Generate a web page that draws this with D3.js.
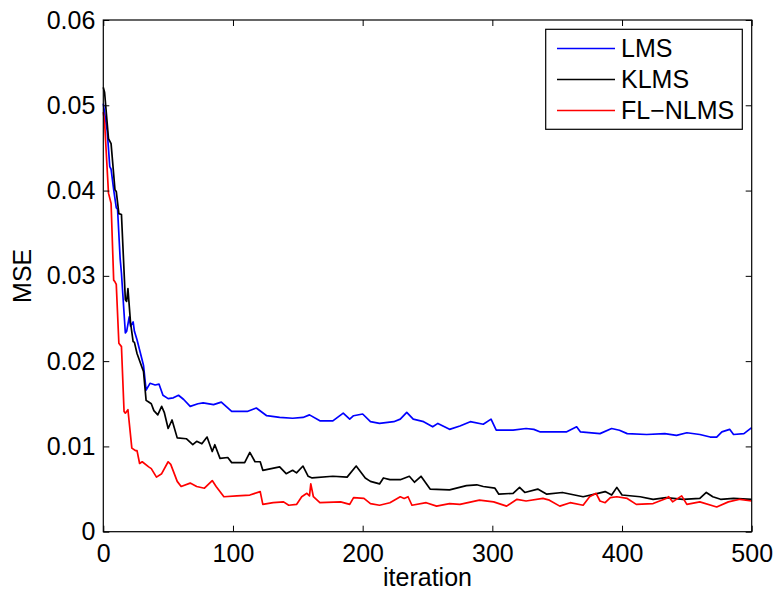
<!DOCTYPE html>
<html>
<head>
<meta charset="utf-8">
<script src="https://cdn.jsdelivr.net/npm/d3@7/dist/d3.min.js"></script>
<style>
  body { margin: 0; background: #fff; }
  svg text { font-family: "Liberation Sans", Arial, Helvetica, sans-serif; fill: #000; }
</style>
<title>MSE</title>
</head>
<body>
<div id="graph"></div>
<script>
// values
var lmsIter = [0,3,5,6,8,10,11,13,14,17,18,20,21,23,24,26,30,31,33,36,40,43,46,50,54,58,62,67,73,77,85,91,99,105,111,118,126,136,146,154,159,167,177,185,190,193,200,206,213,224,229,234,239,247,254,258,267,275,283,293,299,303,316,326,332,337,357,365,368,383,392,398,404,419,433,442,450,460,468,473,477,483,486,494,500];
var lmsMSE = [0.0502,0.0470,0.0428,0.0425,0.0401,0.0380,0.0378,0.0320,0.0303,0.0233,0.0235,0.0252,0.0241,0.0246,0.0235,0.0225,0.0201,0.0195,0.0166,0.0174,0.0172,0.0173,0.0160,0.0156,0.0157,0.0160,0.0155,0.0147,0.0150,0.0151,0.0149,0.0152,0.0141,0.0141,0.0141,0.0145,0.0136,0.0134,0.0133,0.0134,0.0137,0.0130,0.0130,0.0139,0.0132,0.0136,0.0138,0.0129,0.0127,0.0129,0.0132,0.0140,0.0132,0.0129,0.0123,0.0127,0.0120,0.0124,0.0129,0.0126,0.0132,0.0119,0.0119,0.0121,0.0120,0.0117,0.0117,0.0123,0.0117,0.0115,0.0121,0.0119,0.0115,0.0114,0.0115,0.0113,0.0116,0.0114,0.0111,0.0111,0.0117,0.0120,0.0114,0.0115,0.0122];

var klmsIter = [0,1,4,6,9,10,12,14,17,18,19,21,23,24,26,30,31,33,35,37,39,42,45,47,50,53,57,64,69,72,76,80,84,86,90,96,99,109,113,117,121,123,136,141,146,149,154,158,161,177,188,195,202,206,213,216,221,229,236,240,245,252,267,280,288,293,302,305,316,321,325,335,342,354,370,379,387,392,396,400,414,424,434,447,460,465,470,476,486,500];
var klmsMSE = [0.0521,0.0515,0.0461,0.0455,0.0401,0.0399,0.0373,0.0372,0.0272,0.0270,0.0285,0.0245,0.0223,0.0222,0.0209,0.0192,0.0188,0.0154,0.0152,0.0150,0.0142,0.0137,0.0147,0.0140,0.0121,0.0131,0.0110,0.0109,0.0102,0.0106,0.0103,0.0111,0.0094,0.0102,0.0086,0.0087,0.0081,0.0081,0.0093,0.0082,0.0082,0.0072,0.0076,0.0068,0.0072,0.0069,0.0077,0.0065,0.0063,0.0065,0.0064,0.0077,0.0063,0.0059,0.0056,0.0063,0.0061,0.0061,0.0065,0.0058,0.0065,0.0050,0.0049,0.0054,0.0055,0.0053,0.0051,0.0044,0.0045,0.0052,0.0046,0.0050,0.0044,0.0046,0.0041,0.0044,0.0047,0.0043,0.0052,0.0043,0.0041,0.0038,0.0040,0.0038,0.0039,0.0046,0.0041,0.0038,0.0039,0.0038];

var flIter = [0,1,4,6,8,9,10,12,14,16,17,19,22,25,26,28,30,35,37,41,45,50,52,57,60,67,72,78,84,87,93,103,113,121,123,131,139,143,149,153,157,159,160,162,167,183,190,193,201,206,213,221,229,232,235,238,249,257,267,275,290,301,311,319,326,339,344,352,360,370,375,380,383,387,391,396,404,411,424,434,436,439,446,450,460,473,482,491,500];
var flMSE = [0.0492,0.0480,0.0397,0.0385,0.0295,0.0293,0.0290,0.0221,0.0217,0.0141,0.0139,0.0143,0.0098,0.0095,0.0095,0.0080,0.0082,0.0076,0.0074,0.0064,0.0068,0.0082,0.0079,0.0059,0.0053,0.0057,0.0053,0.0051,0.0060,0.0053,0.0041,0.0042,0.0043,0.0047,0.0032,0.0034,0.0035,0.0031,0.0032,0.0041,0.0045,0.0042,0.0056,0.0041,0.0034,0.0035,0.0032,0.0040,0.0039,0.0033,0.0031,0.0034,0.0041,0.0039,0.0041,0.0031,0.0034,0.0030,0.0033,0.0032,0.0037,0.0035,0.0030,0.0038,0.0036,0.0039,0.0037,0.0030,0.0034,0.0031,0.0041,0.0045,0.0036,0.0034,0.0040,0.0041,0.0039,0.0032,0.0033,0.0039,0.0041,0.0035,0.0042,0.0032,0.0035,0.0029,0.0035,0.0038,0.0036];

var seriesNames = ['LMS', 'KLMS', 'FL\u2212NLMS'];
var seriesColors = ['#0000ff', '#000000', '#ff0000'];
var xTicks = [0, 100, 200, 300, 400, 500];
var yTicks = [0, 0.01, 0.02, 0.03, 0.04, 0.05, 0.06];

var width = 774, height = 592;
var mLeft = 103.3, mRight = 751.7, mTop = 20, mBottom = 531.7;

var svg = d3.select('#graph').append('svg')
  .attr('width', width).attr('height', height);

var x = d3.scaleLinear().domain([0, 500]).range([mLeft, mRight]);
var y = d3.scaleLinear().domain([0, 0.06]).range([mBottom, mTop]);

// series (drawn first so the frame sits on top)
var series = [
  {iter: lmsIter, mse: lmsMSE},
  {iter: klmsIter, mse: klmsMSE},
  {iter: flIter, mse: flMSE}
];
var line = d3.line()
  .x(function(d) { return x(d[0]); })
  .y(function(d) { return y(d[1]); });

svg.append('g').selectAll('path').data(series).enter().append('path')
  .attr('d', function(s) { return line(d3.zip(s.iter, s.mse)); })
  .attr('fill', 'none')
  .attr('stroke', function(s, i) { return seriesColors[i]; })
  .attr('stroke-width', 1.7)
  .attr('stroke-linejoin', 'round');

// frame
svg.append('rect')
  .attr('x', mLeft).attr('y', mTop)
  .attr('width', mRight - mLeft).attr('height', mBottom - mTop)
  .attr('fill', 'none').attr('stroke', '#000').attr('stroke-width', 1.2);

// axes, ticks pointing inward, mirrored on top/right
var tickLen = 6;
var fmtY = function(d) { return d === 0 ? '0' : d3.format('.2f')(d); };

var xAxis = svg.append('g').attr('transform', 'translate(0,' + mBottom + ')')
  .call(d3.axisBottom(x).tickValues(xTicks).tickSize(-tickLen).tickPadding(13).tickFormat(d3.format('d')));
var xAxisTop = svg.append('g').attr('transform', 'translate(0,' + mTop + ')')
  .call(d3.axisTop(x).tickValues(xTicks).tickSize(-tickLen).tickFormat(''));
var yAxis = svg.append('g').attr('transform', 'translate(' + mLeft + ',0)')
  .call(d3.axisLeft(y).tickValues(yTicks).tickSize(-tickLen).tickPadding(8).tickFormat(fmtY));
var yAxisRight = svg.append('g').attr('transform', 'translate(' + mRight + ',0)')
  .call(d3.axisRight(y).tickValues(yTicks).tickSize(-tickLen).tickFormat(''));

[xAxis, xAxisTop, yAxis, yAxisRight].forEach(function(g) {
  g.select('.domain').remove();
  g.selectAll('line').attr('stroke', '#000');
  g.selectAll('text').attr('font-size', 25).attr('font-family', '"Liberation Sans", Arial, sans-serif');
});

// axis labels
svg.append('text')
  .attr('x', (mLeft + mRight) / 2).attr('y', 586)
  .attr('text-anchor', 'middle').attr('font-size', 25)
  .text('iteration');
svg.append('text')
  .attr('transform', 'translate(31,' + ((mTop + mBottom) / 2) + ') rotate(-90)')
  .attr('text-anchor', 'middle').attr('font-size', 25)
  .text('MSE');

// legend
var lg = svg.append('g');
lg.append('rect')
  .attr('x', 545.7).attr('y', 29.3).attr('width', 196.6).attr('height', 100)
  .attr('fill', '#fff').attr('stroke', '#000').attr('stroke-width', 1.2);
var rows = lg.selectAll('g.row').data(seriesNames).enter().append('g')
  .attr('class', 'row')
  .attr('transform', function(d, i) { return 'translate(0,' + (48.5 + i * 31) + ')'; });
rows.append('line')
  .attr('x1', 557).attr('x2', 615).attr('y1', 0).attr('y2', 0)
  .attr('stroke', function(d, i) { return seriesColors[i]; })
  .attr('stroke-width', 1.7);
rows.append('text')
  .attr('x', 621).attr('y', 0).attr('dy', '0.35em')
  .attr('font-size', 25)
  .text(function(d) { return d; });
</script>
</body>
</html>
